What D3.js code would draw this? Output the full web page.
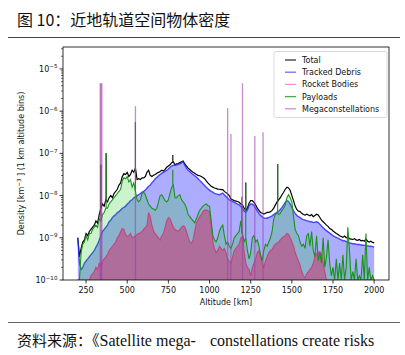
<!DOCTYPE html>
<html><head><meta charset="utf-8">
<script src="https://cdn.jsdelivr.net/npm/d3@7"></script>
<style>body{margin:0;background:#fff}svg{display:block}</style>
</head><body>
<svg id="c" width="405" height="355"></svg>
<script>
// altitude bins (km), 10 km step
const altitudes = d3.range(200, 2001, 10);
// log10 density values
const totalExp = [
-9.0,-9.45,-9.25,-9.1,-9.05,-8.9,-8.95,-8.85,-8.8,-8.75,
-8.7,-8.6,-8.65,-8.45,-8.3,-8.2,-8.25,-8.1,-8.15,-8.05,
-8.0,-8.05,-7.95,-7.9,-7.85,-7.75,-7.7,-7.55,-7.48,-7.5,
-7.45,-7.55,-7.5,-7.4,-7.45,-7.35,-7.62,-7.6,-7.62,-7.58,
-7.58,-7.55,-7.45,-7.4,-7.52,-7.55,-7.52,-7.5,-7.47,-7.45,
-7.43,-7.4,-7.42,-7.38,-7.33,-7.3,-7.27,-7.22,-7.2,-7.27,
-7.25,-7.24,-7.22,-7.2,-7.18,-7.25,-7.3,-7.35,-7.38,-7.42,
-7.45,-7.47,-7.5,-7.52,-7.53,-7.55,-7.57,-7.6,-7.65,-7.7,
-7.74,-7.78,-7.8,-7.82,-7.83,-7.85,-7.85,-7.86,-7.86,-7.9,
-7.93,-7.96,-8.0,-8.08,-8.1,-8.12,-8.13,-8.14,-8.16,-8.2,
-8.22,-8.3,-8.35,-8.3,-8.18,-8.12,-8.12,-8.16,-8.22,-8.3,
-8.35,-8.4,-8.42,-8.44,-8.42,-8.4,-8.4,-8.38,-8.35,-8.3,
-8.22,-8.15,-8.1,-8.05,-7.98,-7.92,-7.85,-7.8,-7.82,-7.88,
-8.0,-8.12,-8.25,-8.33,-8.37,-8.38,-8.42,-8.45,-8.46,-8.44,
-8.46,-8.48,-8.45,-8.5,-8.47,-8.44,-8.46,-8.52,-8.58,-8.62,
-8.66,-8.7,-8.73,-8.78,-8.8,-8.84,-8.87,-8.9,-8.92,-8.95,
-8.97,-8.99,-8.96,-9.0,-8.98,-9.02,-9.03,-9.04,-9.02,-9.05,
-9.06,-9.04,-9.07,-9.06,-9.08,-9.03,-9.08,-9.1,-9.08,-9.11,
-9.12];
const debrisExp = [
-9.0,-9.6,-9.75,-9.7,-9.6,-9.55,-9.5,-9.45,-9.4,-9.35,
-9.3,-9.22,-9.15,-9.05,-8.95,-8.85,-8.8,-8.75,-8.7,-8.62,
-8.58,-8.52,-8.48,-8.45,-8.4,-8.38,-8.34,-8.3,-8.28,-8.25,
-8.2,-8.17,-8.12,-8.1,-8.05,-8.03,-8.0,-7.98,-7.95,-7.92,
-7.9,-7.87,-7.82,-7.78,-7.75,-7.7,-7.65,-7.6,-7.57,-7.53,
-7.5,-7.47,-7.45,-7.42,-7.4,-7.37,-7.33,-7.3,-7.28,-7.28,
-7.27,-7.26,-7.25,-7.22,-7.2,-7.28,-7.35,-7.4,-7.43,-7.47,
-7.5,-7.53,-7.56,-7.6,-7.64,-7.68,-7.72,-7.76,-7.8,-7.84,
-7.87,-7.9,-7.92,-7.95,-7.96,-7.97,-7.98,-7.96,-7.94,-7.98,
-8.02,-8.06,-8.1,-8.12,-8.14,-8.16,-8.18,-8.2,-8.22,-8.26,
-8.3,-8.36,-8.4,-8.34,-8.24,-8.2,-8.2,-8.24,-8.3,-8.36,
-8.42,-8.47,-8.5,-8.53,-8.54,-8.53,-8.52,-8.5,-8.48,-8.45,
-8.42,-8.4,-8.37,-8.33,-8.28,-8.22,-8.16,-8.12,-8.14,-8.2,
-8.28,-8.36,-8.42,-8.47,-8.5,-8.52,-8.55,-8.57,-8.58,-8.6,
-8.6,-8.62,-8.62,-8.64,-8.63,-8.62,-8.64,-8.68,-8.72,-8.76,
-8.8,-8.83,-8.86,-8.89,-8.92,-8.95,-8.97,-8.99,-9.01,-9.03,
-9.05,-9.07,-9.07,-9.09,-9.1,-9.12,-9.13,-9.14,-9.14,-9.15,
-9.16,-9.16,-9.17,-9.17,-9.18,-9.18,-9.19,-9.2,-9.2,-9.21,
-9.22];
const rocketExp = [
-10.5,-10.5,-10.5,-10.5,-10.5,-10.5,-10.5,-10.5,-9.9,-9.85,
-9.8,-9.7,-9.75,-9.6,-9.65,-9.55,-9.5,-9.45,-9.4,-9.3,
-9.25,-9.2,-9.15,-9.1,-9.0,-8.95,-8.85,-8.78,-8.8,-8.92,
-8.97,-8.95,-8.9,-9.0,-8.98,-8.95,-8.92,-8.9,-8.88,-8.85,
-8.8,-8.75,-8.7,-8.4,-8.5,-8.7,-8.85,-8.9,-8.95,-9.0,
-9.05,-8.95,-8.9,-8.75,-8.6,-8.52,-8.55,-8.65,-8.75,-8.8,
-8.82,-8.85,-8.8,-8.75,-8.72,-8.74,-8.85,-8.98,-9.1,-9.13,
-9.05,-8.85,-8.65,-8.58,-8.5,-8.45,-8.38,-8.35,-8.34,-8.36,
-8.38,-8.7,-9.1,-9.25,-9.35,-9.3,-9.2,-9.25,-9.3,-9.25,
-9.35,-9.5,-9.55,-9.6,-9.45,-9.3,-9.25,-9.2,-9.15,-9.0,
-8.97,-9.3,-9.6,-9.7,-9.75,-9.9,-9.7,-9.6,-9.5,-9.35,
-9.3,-9.45,-9.6,-9.7,-9.55,-9.45,-9.35,-9.3,-9.28,-9.2,
-9.15,-9.12,-9.1,-9.05,-9.0,-8.97,-8.95,-8.9,-8.92,-9.0,
-9.1,-9.2,-9.35,-9.45,-9.55,-9.65,-9.8,-9.9,-9.95,-9.85,
-9.8,-9.75,-9.7,-9.6,-9.45,-9.38,-9.35,-9.33,-9.4,-9.6,
-9.8,-10.0,-10.5,-10.5,-10.5,-10.5,-10.5,-10.5,-10.5,-10.5,
-10.5,-10.5,-10.5,-10.5,-10.5,-10.5,-10.5,-10.5,-10.5,-10.5,
-10.5,-10.5,-10.5,-10.5,-10.5,-10.5,-10.5,-10.5,-10.5,-10.5,
-10.5];
const payloadExp = [
-10.5,-10.5,-9.35,-9.15,-9.1,-8.95,-9.05,-8.9,-8.9,-8.8,
-8.75,-8.7,-8.75,-8.55,-8.6,-8.45,-8.4,-8.3,-8.3,-8.2,
-8.15,-8.1,-8.05,-8.0,-7.95,-7.9,-7.85,-7.65,-7.58,-7.6,
-7.55,-7.68,-7.62,-7.8,-7.7,-7.9,-8.1,-8.15,-8.1,-7.95,
-7.92,-7.98,-8.1,-8.2,-8.25,-8.3,-8.32,-8.35,-8.3,-8.15,
-8.0,-7.98,-8.05,-8.12,-8.15,-8.1,-7.95,-7.8,-7.75,-8.05,
-8.05,-8.0,-7.98,-8.1,-8.15,-8.2,-8.3,-8.45,-8.5,-8.55,
-8.6,-8.65,-8.55,-8.45,-8.35,-8.3,-8.25,-8.22,-8.2,-8.24,
-8.25,-8.6,-8.95,-9.05,-9.1,-9.0,-8.85,-8.75,-8.7,-8.95,
-9.15,-9.1,-9.2,-9.25,-9.15,-9.0,-8.95,-8.9,-8.85,-8.6,
-8.9,-9.1,-9.0,-9.3,-9.5,-9.35,-9.0,-8.95,-9.1,-9.05,
-9.2,-9.4,-9.55,-9.3,-9.15,-9.2,-9.1,-9.0,-8.85,-8.55,
-8.45,-8.4,-8.45,-8.42,-8.35,-8.3,-8.22,-8.05,-7.98,-8.05,
-8.15,-8.5,-8.8,-8.9,-8.95,-9.1,-9.2,-9.15,-9.25,-8.95,
-8.9,-9.2,-8.85,-9.3,-9.45,-8.95,-9.55,-9.35,-9.6,-9.0,
-9.7,-9.45,-9.05,-9.6,-9.9,-9.7,-10.2,-9.5,-10.2,-9.6,
-10.2,-9.4,-10.2,-9.7,-8.75,-9.3,-10.2,-9.8,-10.2,-9.5,
-10.2,-9.9,-10.2,-9.4,-10.2,-8.9,-10.2,-9.7,-10.2,-9.9,
-10.2];
// narrow peaks (altitude km, log10 density)
const totalSpikeAlt = [340, 372, 550, 777, 1220, 1414];
const totalSpikeExp = [-7.27, -7.0, -6.26, -7.04, -7.69, -7.25];
const payloadSpikeAlt = [340, 372, 550, 777, 1196, 1220, 1414];
const payloadSpikeExp = [-7.27, -7.0, -6.26, -7.39, -8.03, -7.71, -7.25];
const megaAlt = [336, 341, 346, 550, 1110, 1130, 1200, 1275, 1325];
const megaExp = [-5.34, -5.34, -5.34, -5.88, -5.93, -6.54, -5.34, -6.59, -6.5];

const xTicks = [250, 500, 750, 1000, 1250, 1500, 1750, 2000];
const yTickExp = [-10, -9, -8, -7, -6, -5];
const legendLabels = ["Total", "Tracked Debris", "Rocket Bodies", "Payloads", "Megaconstellations"];
const legendColors = ["#333333", "#6f6ff5", "#ff8fc8", "#4aa84a", "#d08fd0"];

const svg = d3.select("#c");
const L = 63, R = 389, T = 47, B = 280;
const x = d3.scaleLinear().domain([110, 2090]).range([L, R]);
const y = d3.scaleLog().domain([1e-10, Math.pow(10, -4.48)]).range([B, T]).clamp(true);
const p10 = e => Math.pow(10, e);

svg.append("defs").append("clipPath").attr("id", "clip")
  .append("rect").attr("x", L).attr("y", T).attr("width", R - L).attr("height", B - T);

// title
svg.append("text").attr("x", 17).attr("y", 26).attr("font-family", "Noto Sans CJK SC")
  .attr("font-size", 16).attr("fill", "#111").text("图 10：近地轨道空间物体密度");
svg.append("line").attr("x1", 8).attr("x2", 400).attr("y1", 37.5).attr("y2", 37.5)
  .attr("stroke", "#444").attr("stroke-width", 1);

const g = svg.append("g").attr("clip-path", "url(#clip)");
const mk = arr => altitudes.map((a, i) => ({a, v: p10(arr[i])}));
const area = d3.area().x(d => x(d.a)).y0(B).y1(d => y(d.v));
const line = d3.line().x(d => x(d.a)).y(d => y(d.v));
const baseAt = (arr, a) => p10(arr[Math.max(0, Math.min(arr.length - 1, Math.round((a - 200) / 10)))]);

function spikes(alts, exps, baseArr, color, w, op) {
  g.append("g").selectAll("line").data(alts.map((a, i) => ({a, v: p10(exps[i])}))).join("line")
    .attr("x1", d => x(d.a)).attr("x2", d => x(d.a))
    .attr("y1", d => y(Math.min(baseAt(baseArr, d.a), d.v))).attr("y2", d => y(d.v))
    .attr("stroke", color).attr("stroke-width", w).attr("opacity", op);
}

// Total
g.append("path").attr("d", line(mk(totalExp))).attr("fill", "none").attr("stroke", "#000").attr("stroke-width", 1.2);
spikes(totalSpikeAlt, totalSpikeExp, totalExp, "#000", 1.1, 1);
// Tracked debris
g.append("path").attr("d", line(mk(debrisExp))).attr("fill", "none").attr("stroke", "#2a2aff").attr("stroke-width", 1.4).attr("opacity", 0.8);
g.append("path").attr("d", area(mk(debrisExp))).attr("fill", "#0000ff").attr("opacity", 0.32);
// Rocket bodies
g.append("path").attr("d", line(mk(rocketExp))).attr("fill", "none").attr("stroke", "#ff1493").attr("stroke-width", 1.1).attr("opacity", 0.85);
g.append("path").attr("d", area(mk(rocketExp))).attr("fill", "#ff1493").attr("opacity", 0.56);
// Payloads
g.append("path").attr("d", line(mk(payloadExp))).attr("fill", "none").attr("stroke", "#1e8c1e").attr("stroke-width", 1.1);
spikes(payloadSpikeAlt, payloadSpikeExp, payloadExp, "#1e8c1e", 1.1, 1);
g.append("path").attr("d", area(mk(payloadExp))).attr("fill", "#00c800").attr("opacity", 0.2);
// Megaconstellations
g.append("g").selectAll("line").data(megaAlt.map((a, i) => ({a, v: p10(megaExp[i])}))).join("line")
  .attr("x1", d => x(d.a)).attr("x2", d => x(d.a)).attr("y1", B).attr("y2", d => y(d.v))
  .attr("stroke", "#a040a8").attr("stroke-width", 1.3).attr("opacity", 0.6);

// frame
svg.append("rect").attr("x", L).attr("y", T).attr("width", R - L).attr("height", B - T)
  .attr("fill", "none").attr("stroke", "#000").attr("stroke-width", 0.8);

// x axis
const xa = svg.append("g").attr("font-family", "DejaVu Sans").attr("font-size", 8).attr("fill", "#111");
xTicks.forEach(t => {
  xa.append("line").attr("x1", x(t)).attr("x2", x(t)).attr("y1", B).attr("y2", B + 3.5).attr("stroke", "#000").attr("stroke-width", 0.8);
  xa.append("text").attr("x", x(t)).attr("y", B + 13).attr("text-anchor", "middle").text(t);
});
xa.append("text").attr("x", (L + R) / 2).attr("y", B + 24.5).attr("text-anchor", "middle").text("Altitude [km]");

// y axis
const ya = svg.append("g").attr("font-family", "DejaVu Sans").attr("font-size", 8).attr("fill", "#111");
yTickExp.forEach(e => {
  const yy = y(p10(e));
  ya.append("line").attr("x1", L - 3.5).attr("x2", L).attr("y1", yy).attr("y2", yy).attr("stroke", "#000").attr("stroke-width", 0.8);
  const t = ya.append("text").attr("x", L - 5.5).attr("y", yy + 3).attr("text-anchor", "end");
  t.append("tspan").text("10");
  t.append("tspan").attr("dy", -3.5).attr("font-size", 5.6).text("−" + Math.abs(e));
});
for (let e = -10; e <= -5; e++) {
  for (let m = 2; m <= 9; m++) {
    const v = m * p10(e);
    if (v > y.domain()[1]) continue;
    const yy = y(v);
    ya.append("line").attr("x1", L - 2).attr("x2", L).attr("y1", yy).attr("y2", yy).attr("stroke", "#000").attr("stroke-width", 0.6);
  }
}
const yl = ya.append("text").attr("transform", `translate(24,${(T + B) / 2}) rotate(-90)`).attr("text-anchor", "middle");
yl.append("tspan").text("Density [km");
yl.append("tspan").attr("dy", -3).attr("font-size", 5.6).text("−3");
yl.append("tspan").attr("dy", 3).text(" ] (1 km altitude bins)");

// legend
const lg = svg.append("g").attr("font-family", "DejaVu Sans").attr("font-size", 8).attr("fill", "#111");
lg.append("rect").attr("x", 274).attr("y", 51.5).attr("width", 113).attr("height", 66).attr("rx", 2)
  .attr("fill", "#fff").attr("fill-opacity", 0.85).attr("stroke", "#d0d0d0").attr("stroke-width", 0.8);
legendLabels.forEach((lab, i) => {
  const yy = 60 + i * 12.2;
  lg.append("line").attr("x1", 285).attr("x2", 296).attr("y1", yy).attr("y2", yy).attr("stroke", legendColors[i]).attr("stroke-width", 1.3);
  lg.append("text").attr("x", 302).attr("y", yy + 3).text(lab);
});

// source
svg.append("line").attr("x1", 8).attr("x2", 400).attr("y1", 322.5).attr("y2", 322.5)
  .attr("stroke", "#666").attr("stroke-width", 1);
const src = svg.append("text").attr("x", 17).attr("y", 346).attr("font-size", 15).attr("fill", "#111");
src.append("tspan").attr("font-family", "Noto Sans CJK SC").text("资料来源：《");
src.append("tspan").attr("font-family", "Liberation Serif").attr("font-size", 16).text("Satellite mega-");
src.append("tspan").attr("font-family", "Liberation Serif").attr("font-size", 16).attr("dx", 14).text("constellations create risks");
</script>
</body></html>
